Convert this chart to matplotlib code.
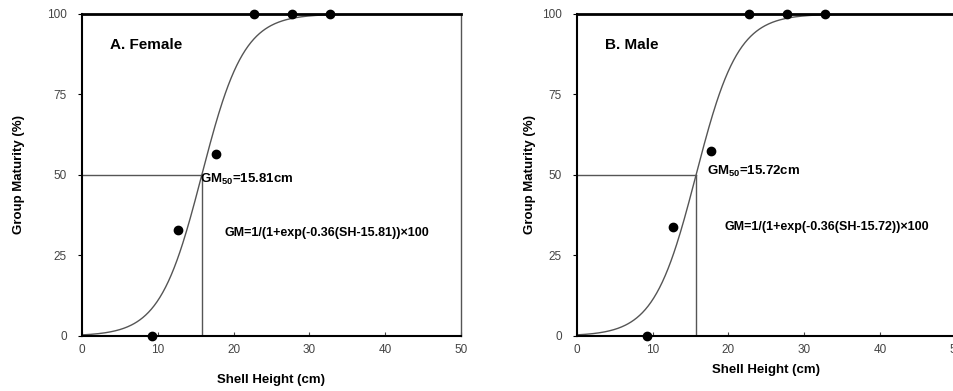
import numpy as np
import matplotlib.pyplot as plt

plt.rcParams['font.family'] = ['Liberation Sans', 'DejaVu Sans']

# observed group maturity (%) by shell height class (cm)
shell_height = [9.2, 12.7, 17.7, 22.7, 27.7, 32.7]
female_gm = [0, 33, 56.5, 100, 100, 100]
male_gm = [0, 34, 57.5, 100, 100, 100]

# fitted logistic parameters shown on the chart
slope = 0.36
female_gm50 = 15.81
male_gm50 = 15.72

# name, values, GM50, axes left, x-label y, ylabel pad, GM50 text pos, eq text pos
panels = [
    ('A. Female', female_gm, female_gm50, 0.086, 0.028, 16, (15.6, 48.5), (18.8, 32)),
    ('B. Male', male_gm, male_gm50, 0.6048, 0.054, 4.5, (17.1, 51), (19.5, 34)),
]

fig = plt.figure(figsize=(9.54, 3.91), dpi=100)

for name, gm, gm50, left, xlab_y, ypad, gm50_pos, eq_pos in panels:
    ax = fig.add_axes([left, 0.1407, 0.397, 0.8235])
    ax.set_xlim(0, 50)
    ax.set_ylim(0, 100)

    # logistic curve
    sh = np.linspace(0, 50, 400)
    curve = 1 / (1 + np.exp(-slope * (sh - gm50))) * 100
    ax.plot(sh, curve, color='#555555', lw=1)

    # GM50 guide lines
    ax.plot([0, gm50], [50, 50], color='#555555', lw=1)
    ax.plot([gm50, gm50], [0, 50], color='#555555', lw=1)

    ax.plot(shell_height, gm, 'o', color='black', ms=6, clip_on=False, zorder=5)

    ax.set_xticks([0, 10, 20, 30, 40, 50])
    ax.set_yticks([0, 25, 50, 75, 100])
    ax.tick_params(axis='x', direction='in', length=3, labelsize=8.5,
                   labelcolor='#444444', pad=6, color='#444444')
    ax.tick_params(axis='y', direction='out', length=3, labelsize=8.5,
                   labelcolor='#444444', pad=8)

    ax.spines['top'].set_linewidth(2)
    ax.spines['top'].set_color('black')
    ax.spines['bottom'].set_linewidth(1.5)
    ax.spines['left'].set_linewidth(1.5)
    ax.spines['right'].set_linewidth(1)
    ax.spines['right'].set_color('#555555')

    fig.text(left + 0.397 / 2, xlab_y, 'Shell Height (cm)', fontsize=9.5,
             fontweight='bold', ha='center', va='center')
    ax.set_ylabel('Group Maturity (%)', fontsize=9.5, fontweight='bold', labelpad=ypad)

    ax.text(0.075, 0.905, name, transform=ax.transAxes, fontsize=11,
            fontweight='bold', va='center')
    ax.text(gm50_pos[0], gm50_pos[1], r'GM$_{\mathregular{50}}$=%.2fcm' % gm50,
            fontsize=9.5, fontweight='bold', va='center')
    ax.text(eq_pos[0], eq_pos[1], 'GM=1/(1+exp(-%.2f(SH-%.2f))×100' % (slope, gm50),
            fontsize=9, fontweight='bold', va='center')

plt.savefig('out.png', dpi=100)
